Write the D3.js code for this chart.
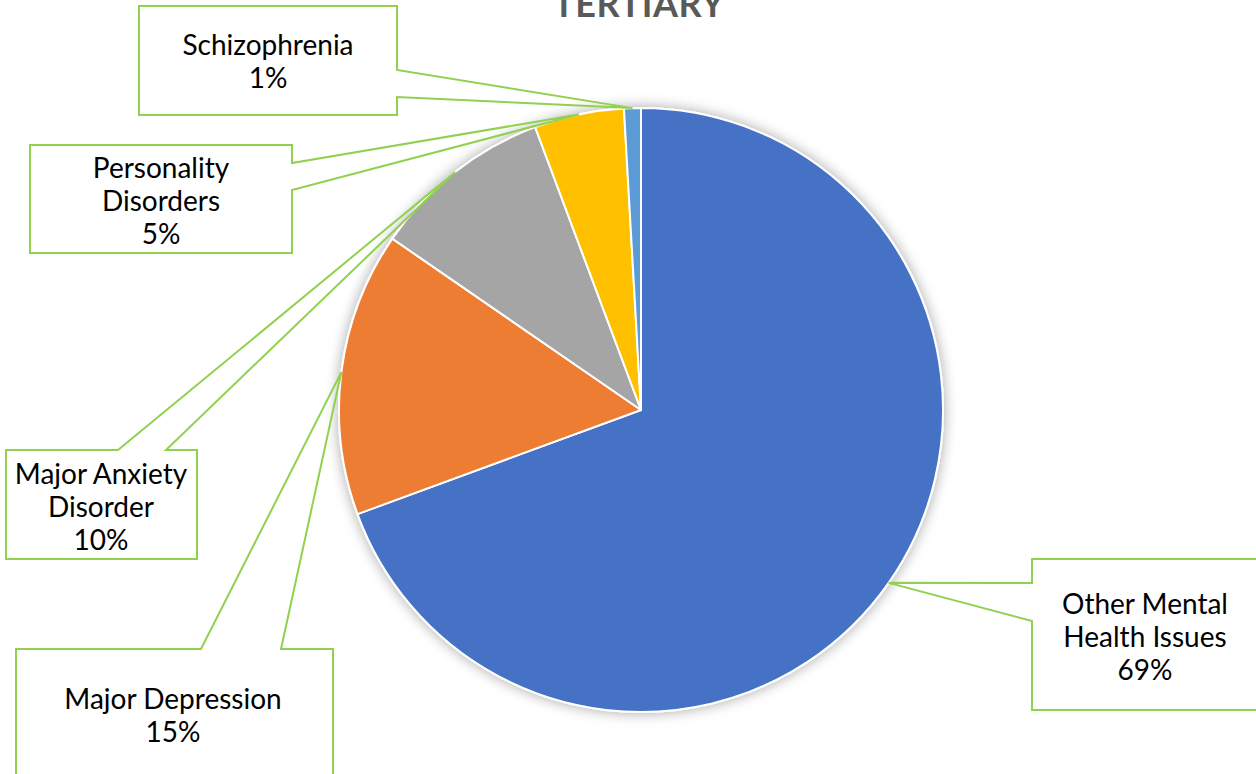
<!DOCTYPE html>
<html>
<head>
<meta charset="utf-8">
<script src="https://cdn.jsdelivr.net/npm/d3@7"></script>
<style>
  html, body { margin: 0; padding: 0; background: #fff; }
  svg { display: block; }
</style>
</head>
<body>
<svg id="chart" width="1256" height="774"></svg>
<script>
// Share of cases by category (percent)
const categories = [
  "Other Mental Health Issues",
  "Major Depression",
  "Major Anxiety Disorder",
  "Personality Disorders",
  "Schizophrenia"
];
const shares = [69.4, 15.2, 9.7, 4.8, 0.9];
// Label lines as written in each callout (the percentage is appended)
const labelLines = [
  ["Other Mental", "Health Issues"],
  ["Major Depression"],
  ["Major Anxiety", "Disorder"],
  ["Personality", "Disorders"],
  ["Schizophrenia"]
];
const title = "TERTIARY";

const colors = ["#4472C4", "#ED7D31", "#A5A5A5", "#FFC000", "#5B9BD5"];

// Callout boxes: rectangle, which side the pointer leaves from and where the gap sits on that side
const callouts = [
  { x0: 1032, y0: 559, x1: 1270, y1: 710, side: "left",  g0: 583, g1: 621, cx: 1145, cy: 637 },
  { x0: 16,   y0: 649, x1: 333,  y1: 790, side: "top",   g0: 201, g1: 281, cx: 173,  cy: 716 },
  { x0: 6,    y0: 450, x1: 197,  y1: 559, side: "top",   g0: 118, g1: 166, cx: 101,  cy: 507 },
  { x0: 30,   y0: 145, x1: 292,  y1: 253, side: "right", g0: 163, g1: 190, cx: 161,  cy: 201 },
  { x0: 139,  y0: 6,   x1: 397,  y1: 115, side: "right", g0: 70,  g1: 97,  cx: 268,  cy: 62 }
];

const svg = d3.select("#chart");
const cx = 641, cy = 410, radius = 302;

// soft shadow around the pie
const defs = svg.append("defs");
const f = defs.append("filter").attr("id", "pieShadow")
  .attr("x", "-20%").attr("y", "-20%").attr("width", "140%").attr("height", "140%");
f.append("feGaussianBlur").attr("in", "SourceAlpha").attr("stdDeviation", 7).attr("result", "blur");
f.append("feComponentTransfer").attr("in", "blur").attr("result", "shadow")
  .append("feFuncA").attr("type", "linear").attr("slope", 0.35);
const merge = f.append("feMerge");
merge.append("feMergeNode").attr("in", "shadow");
merge.append("feMergeNode").attr("in", "SourceGraphic");

// Title (sits partly above the top edge)
svg.append("text")
  .attr("x", 639).attr("y", 17)
  .attr("text-anchor", "middle")
  .attr("font-family", "Lato, 'Open Sans', sans-serif")
  .attr("font-weight", 700)
  .attr("font-size", 36)
  .attr("fill", "#595959")
  .attr("letter-spacing", 0.6)
  .text(title);

const pie = d3.pie().sort(null).value(d => d)(shares);
const arc = d3.arc().innerRadius(0).outerRadius(radius);

const g = svg.append("g").attr("transform", `translate(${cx},${cy})`);
g.append("g").attr("filter", "url(#pieShadow)")
  .selectAll("path")
  .data(pie)
  .join("path")
  .attr("d", arc)
  .attr("fill", (d, i) => colors[i])
  .attr("stroke", "#fff")
  .attr("stroke-width", 2)
  .attr("stroke-linejoin", "round");

// Anchor points on the outer edge at each slice's mid-angle
const anchors = pie.map(d => {
  const a = (d.startAngle + d.endAngle) / 2;
  return [cx + radius * Math.sin(a), cy - radius * Math.cos(a)];
});

function calloutPath(c, p) {
  const [ax, ay] = p;
  const pts = [];
  if (c.side === "left") {
    pts.push([c.x0, c.g0], [c.x0, c.y0], [c.x1, c.y0], [c.x1, c.y1], [c.x0, c.y1], [c.x0, c.g1], [ax, ay]);
  } else if (c.side === "right") {
    pts.push([c.x1, c.g1], [c.x1, c.y1], [c.x0, c.y1], [c.x0, c.y0], [c.x1, c.y0], [c.x1, c.g0], [ax, ay]);
  } else {
    pts.push([c.g1, c.y0], [c.x1, c.y0], [c.x1, c.y1], [c.x0, c.y1], [c.x0, c.y0], [c.g0, c.y0], [ax, ay]);
  }
  return "M" + pts.map(q => q.join(",")).join("L") + "Z";
}

const lg = svg.append("g");
callouts.forEach((c, i) => {
  lg.append("rect")
    .attr("x", c.x0).attr("y", c.y0)
    .attr("width", c.x1 - c.x0).attr("height", c.y1 - c.y0)
    .attr("fill", "#fff");
  lg.append("path")
    .attr("d", calloutPath(c, anchors[i]))
    .attr("fill", "none")
    .attr("stroke", "#92D050")
    .attr("stroke-width", 2)
    .attr("stroke-linejoin", "miter");

  const lines = labelLines[i].concat([Math.round(shares[i]) + "%"]);
  const lh = 33;
  const t = lg.append("text")
    .attr("text-anchor", "middle")
    .attr("font-family", "Lato, 'Open Sans', sans-serif")
    .attr("font-size", 28)
    .attr("fill", "#000");
  lines.forEach((s, k) => {
    t.append("tspan")
      .attr("x", c.cx)
      .attr("y", c.cy + (k - (lines.length - 1) / 2) * lh)
      .attr("dy", "0.35em")
      .text(s);
  });
});
</script>
</body>
</html>
